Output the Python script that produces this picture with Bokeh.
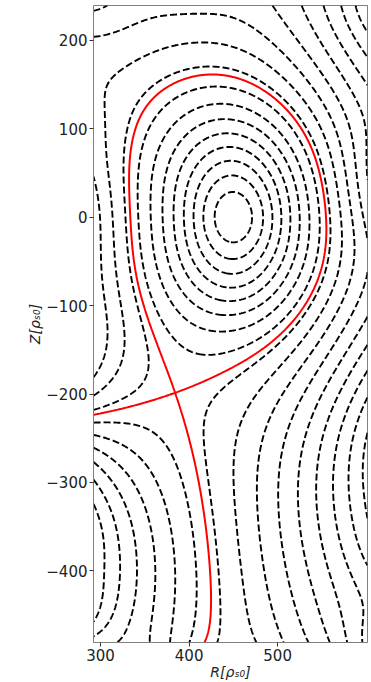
import numpy as np
from bokeh.plotting import figure
from bokeh.models import FixedTicker, Range1d
from bokeh.embed import file_html
from bokeh.resources import INLINE

# ---------------- traced flux-surface points (R, Z) ----------------
o_point = [450, 0]
x_point = [389.8, -199.8]
core_1 = [[450, 22], [461.5, 15.5], [466, 0], [461.5, -15.5], [450, -22], [438, -15.5], [433, 0], [438, 15.5]]
core_2 = [[450, 48.6], [474, 34.5], [484, 0], [474, -37.5], [450, -53], [426, -37.5], [416, 0], [426, 34.5]]
core_3 = [[450, 64.8], [484, 46], [498, 0], [484, -47], [450, -66], [416, -47], [402, 0], [416, 46]]
core_4 = [[450, 80.7], [493, 57.5], [511, 0], [493, -58.5], [450, -82], [406, -58.5], [389, 0], [406, 57.5]]
core_5 = [[450, 96.5], [501, 69], [522, 0], [501, -70], [450, -97], [397, -70], [376, 0], [396, 69]]
core_6 = [[450, 111.6], [508, 80], [532, 0], [508, -83], [450, -114], [388, -83], [364, 0], [384, 82]]
core_7 = [[450, 127], [513, 91], [539, 0], [513, -92], [450, -131], [382, -98], [353, 0], [367, 96]]
core_8 = [[450, 143], [495, 130], [517, 103], [541, 45], [546, 0], [540, -50], [520, -95], [490, -128],
          [450, -152], [405, -147], [373, -114], [352, -50], [344, 0], [346, 60], [356, 108], [390, 136]]

sep_core = [[424, 158.4], [446, 156.5], [484, 147], [506.6, 132], [521.7, 109.4], [529.2, 86.8], [548, 49],
            [553.7, 0], [548, -56.6], [534.8, -94], [514, -113], [491.5, -139.6], [450, -165.8],
            [412.4, -184.7], [378, -165], [363.5, -120], [344.6, -56.6], [334.8, 0],
            [330.7, 34], [335, 94.3], [348, 132], [375, 151]]
sep_leg_left = [[356, -207.4], [329.6, -213], [297.5, -216.8]]
sep_leg_down = [[404.9, -248.9], [418, -301.6], [425.6, -365.7], [427.5, -403.4], [424.5, -441.2], [419.2, -480.8]]
sep_level = 8.7

sol_9 = [[410, 164], [450, 164.5], [490, 155], [510, 142], [531, 115], [541, 88], [557, 50], [559.5, 0],
         [559.3, -56.6], [548, -94], [521.7, -132], [484, -162], [446.3, -182.8], [419.5, -211],
         [415.8, -241.3], [424, -300], [431, -365], [433, -403], [431, -440], [428.5, -480.8],
         [375, 158], [342, 138], [331, 100], [327, 34], [330, 0], [339, -56], [354, -120], [365, -160],
         [364, -183], [356, -196], [326, -206], [295.7, -210]]
sol_10 = [[404.9, 194.2], [442.6, 186.7], [480, 176], [506.5, 160], [530, 135], [550, 100], [563, 60],
          [572, 0], [574, -40], [566, -100], [545, -150], [500, -185], [470, -210], [455, -252.6],
          [455, -300], [456, -365.7], [459.5, -480.8], [363.5, 181], [333.3, 151]]
sol_10_hfs = [[308.8, 86.8], [310, 34], [312, 0], [314, -37.7], [316.4, -100], [316, -150], [310, -178],
              [295.7, -196]]
sol_11 = [[295.7, 201.8], [325.8, 214.9], [363.5, 236], [431.3, 237.6], [487.8, 222.5], [525.4, 196],
          [556, 160], [575, 110], [583, 60], [584, 0], [587, -40], [580, -100], [565, -150], [515, -200],
          [479.4, -252.6], [484, -365.7], [489.6, -480.8]]
sol_11_hfs = [[295, 32], [297, 21], [299, 0], [300.5, -37.7], [301.5, -100], [301, -150.8], [295.7, -181]]
sol_12 = [[480.2, 239.5], [521.7, 196], [559.3, 151], [589.5, 101.8], [594, 50], [594, 0], [596, -40],
          [590, -100], [577, -150], [540, -200], [502.8, -252.6], [510.4, -365.7], [519.8, -480.8]]
sol_13 = [[516, 239.5], [548, 205], [575, 160], [593, 115], [601, 75],
          [601, -70], [598, -100], [588, -150], [558, -200], [521.7, -252.6], [534.8, -365.7], [550, -480.8]]
sol_14 = [[544.3, 239.5], [570, 200], [590, 150], [601, 100],
          [601, -130], [597, -150], [573, -200], [539.8, -252.6], [559.3, -365.7], [578.2, -480.8]]
sol_15 = [[567, 239.5], [585, 200], [601, 156.6],
          [601, -170], [586, -200], [555.6, -252.6], [578, -365.7], [600, -478]]
sol_16 = [[587.6, 239.5], [601, 205.5],
          [601, -192], [597, -200], [569.8, -252.6], [589.5, -365.7], [601, -458]]
sol_17 = [[601, -220], [583.8, -252.6], [598, -365.7], [601, -396]]
sol_18 = [[601, -238], [593.2, -252.6], [601, -324]]

pf_8 = [[297.5, -230], [337, -237.6], [363.5, -252.6], [382.3, -275], [397.4, -309], [408.7, -365.7],
        [410, -403], [406.8, -440], [403, -480.8]]
pf_7 = [[297.5, -248.9], [329.6, -264], [356, -290], [378.5, -328], [386, -400], [378.5, -460], [374.8, -480.8]]
pf_6 = [[297.5, -279], [337, -305], [356, -339], [361.6, -400], [356, -448.6], [344.6, -480.8]]
pf_5 = [[297.5, -316.7], [322, -350.7], [339, -400], [329.6, -452.5], [314.5, -480.8]]
pf_4 = [[297.5, -346.9], [318.3, -400], [307, -456], [297.5, -470]]
pf_3 = [[297.5, -365.7], [298, -400], [297.5, -418.6]]

# (level, points, fit weight)
groups = [
    (0.0, [o_point], 1), (sep_level, [x_point], 4),
    (1, core_1, 1), (2, core_2, 1), (3, core_3, 1), (4, core_4, 1), (5, core_5, 1), (6, core_6, 1),
    (7, core_7, 1), (8, core_8, 1),
    (sep_level, sep_core, 3), (sep_level, sep_leg_left, 3), (sep_level, sep_leg_down, 6),
    (9, sol_9, 1), (10, sol_10, 1), (10, sol_10_hfs, 3), (11, sol_11, 1), (11, sol_11_hfs, 3),
    (12, sol_12, 1), (13, sol_13, 1), (14, sol_14, 1), (15, sol_15, 1),
    (16, sol_16, 1), (17, sol_17, 1), (18, sol_18, 1),
    (8, pf_8, 1), (7, pf_7, 1), (6, pf_6, 1), (5, pf_5, 1), (4, pf_4, 1), (3, pf_3, 1),
]
dashed_levels = list(range(1, 20))

# model field: softened plasma filaments + a ring of external coils + divertor coils (R, Z)
plasma_fil = [[450, 0], [450, 65], [450, -70], [400, 0], [500, 0], [425, 115], [440, -125]]
ring_z = np.linspace(-580, 295, 8)
ring_r = [325, 450, 575]
coil_fil = ([[200, z] for z in ring_z] + [[700, z] for z in ring_z] +
            [[r, -580] for r in ring_r] + [[r, 340] for r in ring_r] +
            [[240, -405], [230, -140], [230, 60], [420, -545], [640, -530]])
soft = 0.55


def sc(r, z):
    return (np.asarray(r, float) - 450.0) / 100.0, np.asarray(z, float) / 100.0


pf_s = np.array([sc(r, z) for r, z in plasma_fil])
cf_s = np.array([sc(r, z) for r, z in coil_fil])


def basis(x, y):
    cols = []
    for xk, yk in pf_s:
        cols.append(0.5 * np.log((x - xk) ** 2 + (y - yk) ** 2 + soft ** 2))
    for xk, yk in cf_s:
        cols.append(0.5 * np.log((x - xk) ** 2 + (y - yk) ** 2))
    cols += [np.ones_like(x), x, y, x * x - y * y, x * y]
    return np.stack(cols, -1)


def basis_grad(x, y):
    gxc, gyc = [], []
    for xk, yk in pf_s:
        d = (x - xk) ** 2 + (y - yk) ** 2 + soft ** 2
        gxc.append((x - xk) / d)
        gyc.append((y - yk) / d)
    for xk, yk in cf_s:
        d = (x - xk) ** 2 + (y - yk) ** 2
        gxc.append((x - xk) / d)
        gyc.append((y - yk) / d)
    o, zr = np.ones_like(x), np.zeros_like(x)
    gxc += [zr, o, zr, 2 * x, y]
    gyc += [zr, zr, o, -2 * y, x]
    return np.stack(gxc, -1), np.stack(gyc, -1)


rr, zz, vv, ww = [], [], [], []
for lev, plist, wt in groups:
    for r, z in plist:
        rr.append(r)
        zz.append(z)
        vv.append(lev)
        ww.append(wt)
xs, ys = sc(rr, zz)
ww = np.array(ww, float)
B = basis(xs, ys) * ww[:, None]
rhs = np.array(vv, float) * ww
wg = 10.0
for r, z in (o_point, x_point):
    gx1, gy1 = basis_grad(*[np.array([t]) for t in sc(r, z)])
    B = np.vstack([B, wg * gx1, wg * gy1])
    rhs = np.concatenate([rhs, [0.0, 0.0]])
m = B.shape[1]
B = np.vstack([B, 0.006 * np.eye(m)])
rhs = np.concatenate([rhs, np.zeros(m)])
coef = np.linalg.lstsq(B, rhs, rcond=None)[0]

gr_ = np.linspace(292.0, 601.5, 320)
gz_ = np.linspace(-481.0, 239.5, 740)
XX, YY = np.meshgrid(gr_, gz_)
gxs, gys = sc(XX, YY)
PSI = basis(gxs, gys) @ coef

# saddle (X-point) level so that the red curve crosses itself
dz, dr = np.gradient(PSI, gz_, gr_)
g2 = np.where((XX > 360) & (XX < 420) & (YY > -230) & (YY < -170), dr ** 2 + dz ** 2, np.inf)
iy, ix = np.unravel_index(np.argmin(g2), g2.shape)
x_level = PSI[iy, ix]

# ---------------- figure ----------------
p = figure(frame_width=274, frame_height=637, x_range=Range1d(292, 601.5), y_range=Range1d(-481, 239.5),
           output_backend="svg", toolbar_location=None, min_border_left=93, min_border_right=4,
           min_border_top=5, min_border_bottom=40)
p.contour(XX, YY, PSI, levels=dashed_levels, line_color="black", line_dash="7 3", line_width=1.9)
p.contour(XX, YY, PSI, levels=[x_level], line_color="red", line_width=2.0)

p.xgrid.visible = False
p.ygrid.visible = False
p.outline_line_color = "#808080"
p.xaxis.ticker = FixedTicker(ticks=[300, 400, 500])
p.yaxis.ticker = FixedTicker(ticks=[200, 100, 0, -100, -200, -300, -400])
p.yaxis.major_label_overrides = {-100: "\u2212100", -200: "\u2212200", -300: "\u2212300", -400: "\u2212400"}
p.xaxis.axis_label = "R[\u03c1\u209b\u2080]"
p.yaxis.axis_label = "Z[\u03c1\u209b\u2080]"
for ax in (p.xaxis[0], p.yaxis[0]):
    ax.axis_line_color = "#808080"
    ax.major_tick_line_color = "#333333"
    ax.minor_tick_line_color = None
    ax.major_tick_out = 4
    ax.major_tick_in = 0
    ax.major_label_standoff = 2
    ax.major_label_text_font = "DejaVu Sans"
    ax.major_label_text_font_size = "15px"
    ax.major_label_text_color = "#222222"
    ax.axis_label_text_font = "DejaVu Sans"
    ax.axis_label_text_font_size = "14px"
    ax.axis_label_text_font_style = "italic"
    ax.axis_label_text_color = "#222222"
    ax.axis_label_standoff = 0

open("out.html", "w").write(file_html(p, INLINE))
